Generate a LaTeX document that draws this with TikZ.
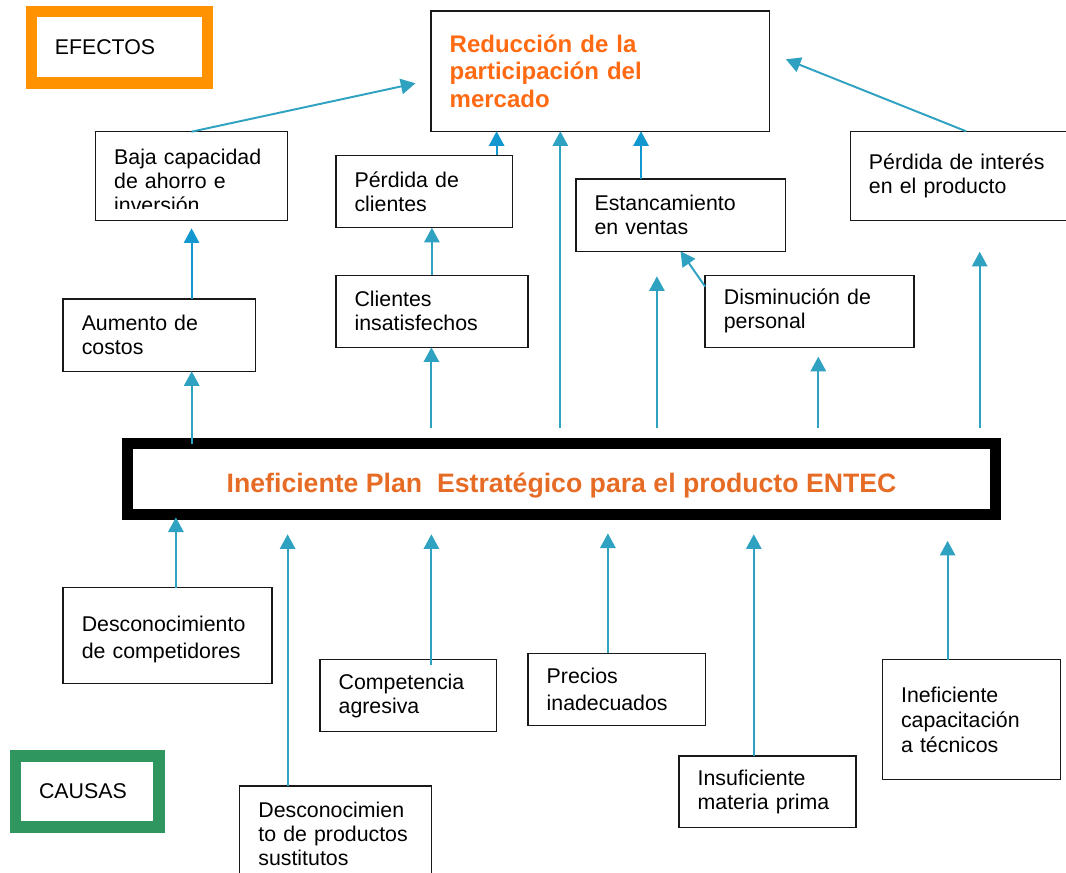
\documentclass[tikz,border=0pt]{standalone}
\usepackage{fontspec}
\setmainfont{Liberation Sans}
\usetikzlibrary{arrows.meta}
\definecolor{naranja}{RGB}{255,146,0}
\definecolor{verde}{RGB}{48,150,96}
\definecolor{textonar}{RGB}{255,106,18}
\definecolor{textocen}{RGB}{230,108,38}
\definecolor{flechaturq}{RGB}{46,162,192}
\definecolor{flechaazul}{RGB}{18,152,206}
\tikzset{
  caja/.style={draw=black!90, line width=1.1pt, anchor=north west, outer sep=0pt, inner xsep=14pt, inner ysep=0pt, align=left, font=\fontsize{16}{18}\selectfont},
  marco/.style={draw=#1, line width=8.6pt, anchor=north west, outer sep=0pt, inner xsep=17.5pt, inner ysep=0pt, align=left, font=\fontsize{16}{18}\selectfont},
  flecha/.style={draw=flechaturq, line width=1.45pt, -{Triangle[width=11.5pt,length=11pt]}},
  flechaaz/.style={flecha, draw=flechaazul},
}
\begin{document}
\begin{tikzpicture}[x=.75pt, y=-.75pt]
\useasboundingbox (0,0) rectangle (1066,872);
% etiquetas
\node[marco=naranja, minimum width=131.8pt, minimum height=53.8pt, text width=96.8pt] (efectos) at (31.5,11.3) {EFECTOS};
\node[marco=verde, minimum width=107.6pt, minimum height=53.1pt, text width=72.6pt] (causas) at (15.7,756.2) {CAUSAS};
% efectos
\node[caja, font=\fontsize{18}{20.8}\selectfont\bfseries, text=textonar, minimum width=253.7pt, minimum height=90.2pt, text width=225.7pt] (reduccion) at (431,11) {Reducción de la\\participación del\\mercado};
\node[caja, minimum width=144.1pt, minimum height=66.45pt, text width=116.1pt] (baja) at (95.5,131.7) {\rule{0pt}{18.4pt}Baja capacidad\\de ahorro e\\inversión};
\fill[white] (97,209) rectangle (286,219.2);
\node[caja, minimum width=132.4pt, minimum height=54.3pt, text width=104.4pt] (perdcli) at (335.9,155.3) {Pérdida de\\clientes};
\node[caja, minimum width=157pt, minimum height=54.2pt, text width=129pt] (estanc) at (575.9,179) {Estancamiento\\en ventas};
\node[caja, minimum width=173.9pt, minimum height=66.75pt, text width=145.9pt] (interes) at (850.3,131.3) {Pérdida de interés\\en el producto};
\node[caja, minimum width=144.3pt, minimum height=54.2pt, text width=116.3pt] (aumento) at (63.1,299) {Aumento de\\costos};
\node[caja, minimum width=144pt, minimum height=54pt, text width=116pt] (clientes) at (335.9,275.3) {Clientes\\insatisfechos};
\node[caja, minimum width=156.7pt, minimum height=54pt, text width=128.7pt] (dismin) at (705.2,275.3) {Disminución de\\personal};
% problema central
\node[draw=black, line width=8.25pt, anchor=north west, outer sep=0pt, minimum width=650.5pt, minimum height=53.25pt, inner sep=0pt, text=textocen, font=\fontsize{20}{24}\selectfont\bfseries, text height=19.5pt, text depth=0pt] (central) at (127.9,443.8) {Ineficiente Plan\ \ Estratégico para el producto ENTEC};
% causas
\node[caja, font=\fontsize{16}{20.25}\selectfont, minimum width=156.7pt, minimum height=71.7pt, text width=128.7pt] (desccomp) at (63.1,587.7) {\rule{0pt}{18pt}Desconocimiento\\de competidores};
\node[caja, minimum width=144pt, minimum height=72.4pt, text width=116pt] (descprod) at (239.7,786) {Desconocimien\\to de productos\\sustitutos};
\node[caja, minimum width=132.5pt, minimum height=54pt, text width=104.5pt] (compet) at (320,659.7) {Competencia\\agresiva};
\node[caja, font=\fontsize{16}{20}\selectfont, minimum width=133.1pt, minimum height=54pt, text width=105.1pt] (precios) at (528,653.3) {Precios\\inadecuados};
\node[caja, minimum width=132.9pt, minimum height=53.5pt, text width=104.9pt] (insuf) at (679,756) {Insuficiente\\materia prima};
\node[caja, font=\fontsize{16}{18.75}\selectfont, minimum width=133.4pt, minimum height=90pt, text width=105.4pt] (capacit) at (882.4,659.7) {Ineficiente\\capacitación\\a técnicos};
% flechas hacia los efectos
\draw[flecha] (191.7,0 |- central.north) -- (191.7,0 |- aumento.south);
\foreach \x/\destino/\corte in {431.4/clientes/0pt, 560.3/reduccion/0pt, 818.3/dismin/7pt}
  \draw[flecha, shorten <=12pt, shorten >=\corte] (\x,0 |- central.north) -- (\x,0 |- \destino.south);
\coordinate (libre1) at (656.9,276.3);
\coordinate (libre2) at (979.7,251.7);
\foreach \p in {libre1, libre2}
  \draw[flecha, shorten <=12pt] (\p |- central.north) -- (\p);
\draw[flechaaz, shorten >=6pt] (baja.south |- aumento.north) -- (baja.south);
\draw[flecha] (clientes.north) -- (clientes.north |- perdcli.south);
\draw[flechaaz] (496.6,0 |- perdcli.north) -- (496.6,0 |- reduccion.south);
\draw[flechaaz] (641,0 |- estanc.north) -- (641,0 |- reduccion.south);
\draw[flecha] ([yshift=-8.5pt]dismin.north west) -- (estanc.south);
\coordinate (red-izq) at (415.5,83.3);
\coordinate (red-der) at (785.9,59.3);
\draw[flecha] (baja.north) -- (red-izq);
\draw[flecha] (interes.north) -- (red-der);
% flechas desde las causas
\foreach \origen/\x/\ini/\fin in {desccomp/175.9/0pt/1.9pt, descprod/287.6/0pt/14.6pt, compet/431.4/-4.3pt/14.6pt, precios/607.9/0pt/13.9pt, insuf/753.8/0pt/14.6pt, capacit/947.6/0pt/19.5pt}
  \draw[flecha, shorten <=\ini, shorten >=\fin] (\x,0 |- \origen.north) -- (\x,0 |- central.south);
\end{tikzpicture}
\end{document}
